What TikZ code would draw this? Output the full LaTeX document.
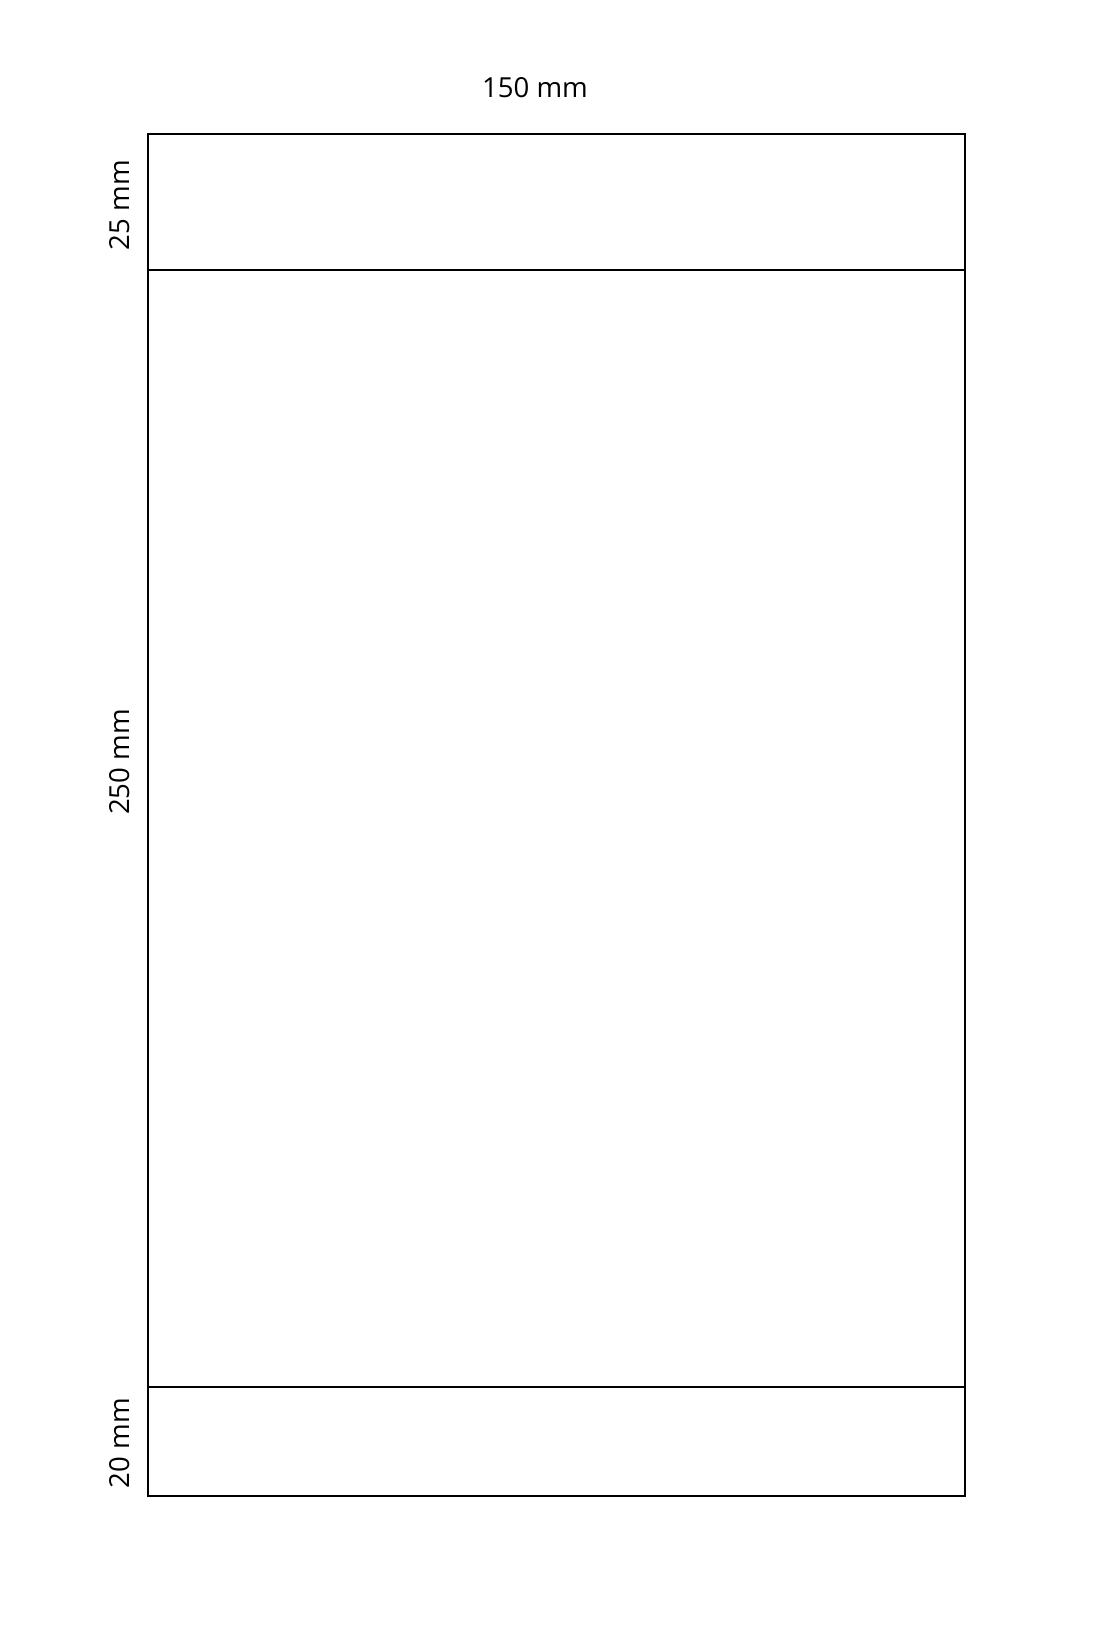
\documentclass[tikz,border=0pt]{standalone}
\usepackage{fontspec}
\setmainfont{Open Sans}

\begin{document}
\begin{tikzpicture}[x=0.02cm, y=-0.02cm, line width=1.2pt,
  dimlabel/.style={font=\fontsize{15.7}{19}\selectfont, inner sep=0pt}]
			\useasboundingbox (0,0) rectangle (1106,1650);
			\draw (148,134) rectangle (965,1496);
			\draw (148,270) -- (965,270);
			\draw (148,1387) -- (965,1387);
			
			\node[dimlabel] (width) at (535,88) {150 mm};
			\foreach \y/\t/\n in {205/25 mm/top, 762/250 mm/middle, 1443/20 mm/bottom} {
				\node[dimlabel, rotate=90] (\n) at (120,\y) {\t};
			}
		\end{tikzpicture}
\end{document}
